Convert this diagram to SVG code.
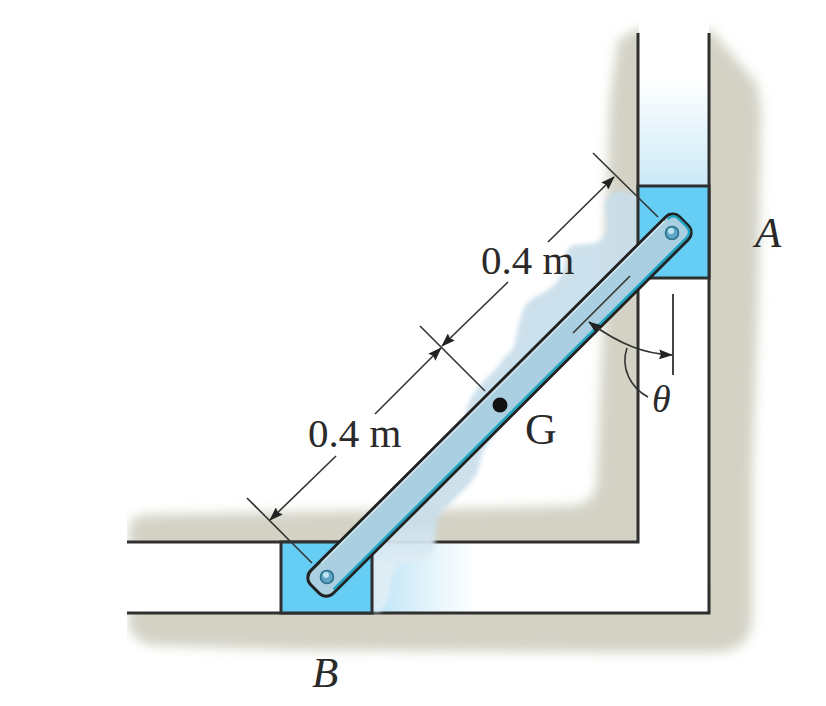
<svg xmlns="http://www.w3.org/2000/svg" width="826" height="706" viewBox="0 0 826 706">
<style>
.wall{fill:#d3d2c5;filter:url(#soft)}
.edge{stroke:#2f2f2f;stroke-width:3;fill:none}
.block{fill:#66cdf5;stroke:#2f2f2f;stroke-width:3}
.dim{stroke:#333;stroke-width:1.6;fill:none}
.arrow{marker-end:url(#head)}
.pin{fill:#5fa6c6;stroke:#2b6f88;stroke-width:1.6}
text{font-family:"Liberation Serif","Times New Roman",serif;fill:#2a2a2a}
.num{font-size:41px}
.sym{font-size:43px;font-style:italic}
</style>
<defs>
<filter id="soft" x="-20%" y="-20%" width="140%" height="140%"><feGaussianBlur stdDeviation="6"/></filter>
<filter id="ghost" x="-20%" y="-20%" width="140%" height="140%"><feGaussianBlur stdDeviation="2.2"/></filter>
<marker id="head" viewBox="0 0 14 10" refX="13" refY="5" markerWidth="14" markerHeight="10" markerUnits="userSpaceOnUse" orient="auto"><path d="M0,0 L14,5 L0,10 L2,5 Z" fill="#222"/></marker>
<linearGradient id="fadeV" x1="0" y1="0" x2="0" y2="1"><stop offset="0" stop-color="#fff"/><stop offset="1" stop-color="#cbe9f7"/></linearGradient>
<linearGradient id="fadeH" x1="0" y1="0" x2="1" y2="0"><stop offset="0" stop-color="#bde4f7"/><stop offset=".5" stop-color="#e4f4fb"/><stop offset=".9" stop-color="#fff"/></linearGradient>
<linearGradient id="ghostFill" gradientUnits="userSpaceOnUse" x1="0" y1="520" x2="0" y2="565"><stop offset="0" stop-color="#c9dfeb" stop-opacity=".92"/><stop offset="1" stop-color="#e0eef5" stop-opacity=".95"/></linearGradient>
<clipPath id="wallClip"><rect x="127" y="0" width="699" height="706"/></clipPath>
</defs>
<rect width="826" height="706" fill="#fff"/>
<g id="wall">
<g clip-path="url(#wallClip)">
<path class="wall" d="M660,28 L636,30 L618,40 L610,100 L603,330 L597,480 Q596,505 570,506 L500,508 L145,515 Q130,516 129,530 L129,560 L660,560 Z"/>
<path class="wall" d="M700,28 L712,31 L757,84 L761,110 L758,300 L752,480 L752,620 Q750,652 715,652 L600,652 L300,650 L150,645 Q132,640 129,625 L129,590 L700,590 Z"/>
</g>
<rect x="639" y="0" width="70" height="613" fill="#fff"/>
<rect x="0" y="543" width="709" height="70" fill="#fff"/>
<rect x="640" y="78" width="68" height="108" fill="url(#fadeV)"/>
<rect x="373" y="544" width="115" height="68" fill="url(#fadeH)"/>
<path class="edge" d="M638,33 V542 H127"/>
<path class="edge" d="M709,33 V613 H127"/>
</g>
<path id="motion-ghost" filter="url(#ghost)" fill="url(#ghostFill)" d="M640,196 C628,191 620,190 613,193 C605,197 604,203 605,210 C607,222 609,232 600,241 C590,246 578,243 571,246 C563,252 566,268 560,277 C555,287 545,292 532,299 C522,306 522,314 519,324 C515,335 517,345 510,352 C503,358 500,364 495,370 C485,380 476,388 470,400 L465,413 L497,430 C490,440 484,448 481,458 C479,468 478,474 472,481 C465,490 455,498 447,507 C440,512 437,518 436,526 C435,536 436,544 433,552 C429,560 422,562 414,562 C406,562 400,562 396,567 C391,574 392,585 389,596 C387,603 384,608 379,612 L373,612 L373,532 L640,265 Z"/>
<g id="block-a"><rect class="block" x="638" y="186" width="71" height="92"/></g>
<g id="block-b"><rect class="block" x="281" y="542" width="91" height="71"/></g>
<g id="connectors">
<path class="dim" d="M593,153 L658,217"/>
<path class="dim" d="M420,326 L485,391"/>
<path class="dim" d="M247,498 L312,563"/>
<path class="dim arrow" d="M548,242 L614,177"/>
<path class="dim arrow" d="M508,282 L442,346"/>
<path class="dim arrow" d="M375,414 L441,348"/>
<path class="dim arrow" d="M336,456 L270,520"/>
</g>
<g id="rod" transform="translate(327,577) rotate(-44.9)">
<rect x="-17" y="-16" width="521" height="32" rx="10" fill="#a9cfe0" stroke="#222" stroke-width="3"/>
<path d="M-4,13.4 H494 Q502,13.4 502,5 V-5 Q502,-13 494,-13" stroke="#1ea3c1" stroke-width="2.4" fill="none"/>
<path d="M6,-13.8 H490" stroke="#d5e9f1" stroke-width="1.4" fill="none"/>
</g>
<g id="pin-a"><circle class="pin" cx="672" cy="233" r="6.5"/><circle cx="671" cy="231" r="3" fill="#bfe3f0"/></g>
<g id="pin-b"><circle class="pin" cx="327" cy="577" r="6.5"/><circle cx="326" cy="575" r="3" fill="#bfe3f0"/></g>
<g id="center-g"><circle cx="500" cy="405" r="7.5" fill="#111"/></g>
<g id="angle">
<path class="dim" d="M573,333 L630,276"/>
<path d="M673,294 V375" stroke="#444" stroke-width="2" fill="none"/>
<path class="dim arrow" d="M633,347 Q612,339 589,322"/>
<path class="dim arrow" d="M633,347 Q651,354 672,355"/>
<path class="dim" d="M627,348 C620,368 631,388 648,397"/>
</g>
<g id="labels">
<text class="num" x="481" y="274">0.4 m</text>
<text class="num" x="308" y="447">0.4 m</text>
<text class="sym" x="755" y="247">A</text>
<text class="sym" x="312" y="687">B</text>
<text x="525" y="444" style="font-size:44px">G</text>
<text class="sym" x="652" y="412" style="font-size:38px">θ</text>
</g>
</svg>
